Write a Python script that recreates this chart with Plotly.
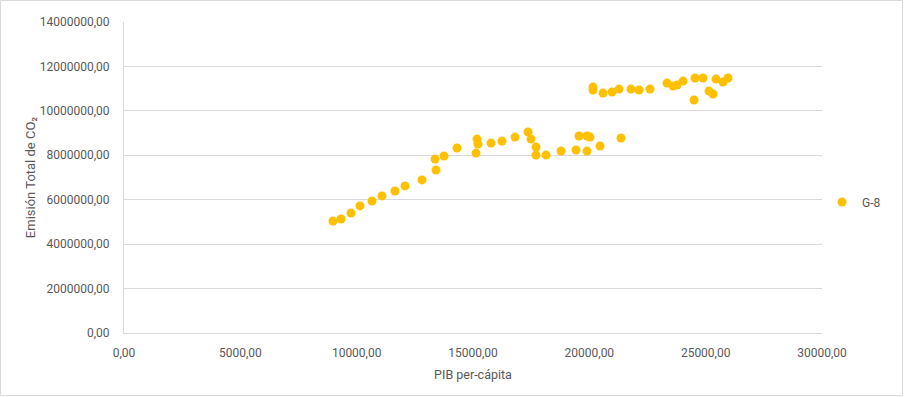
import plotly.graph_objects as go

pib = [8983, 9327, 9757, 10143, 10659, 11089, 11648, 12078, 12808, 13410,
       13367, 13754, 14313, 15129, 15172, 15215, 15774, 16246, 16805, 17364,
       17493, 17708, 17708, 18138, 18783, 19427, 19556, 19900, 19900, 20029,
       20459, 21361, 20158, 20158, 20588, 20975, 21276, 21791, 22135, 22608,
       23338, 23596, 23768, 24026, 24499, 24542, 24886, 25143, 25315, 25444,
       25745, 25960]
co2 = [5040000, 5130000, 5400000, 5720000, 5940000, 6170000, 6390000, 6620000, 6890000, 7340000,
       7830000, 7970000, 8330000, 8100000, 8730000, 8510000, 8550000, 8640000, 8820000, 9050000,
       8730000, 8370000, 8010000, 8010000, 8190000, 8240000, 8870000, 8190000, 8870000, 8820000,
       8420000, 8780000, 11070000, 10940000, 10800000, 10850000, 10980000, 10980000, 10940000, 10980000,
       11250000, 11120000, 11160000, 11340000, 10490000, 11480000, 11480000, 10890000, 10760000, 11430000,
       11300000, 11480000]
series_name = "G-8"

FONT = "Roboto, sans-serif"
TXT = "#595959"
GRID = "#d9d9d9"

fig = go.Figure()
fig.add_trace(go.Scatter(
    x=pib, y=co2, mode="markers", name=series_name,
    marker=dict(color="#FFC000", size=9, line=dict(width=0)),
))

W, H = 904, 397
L, R, T, B = 124, 82, 22, 64
pw, ph = W - L - R, H - T - B

def px2paper_x(px):
    return (px - L) / pw

def px2paper_y(py):
    return (H - B - py) / ph

fig.update_layout(
    width=W, height=H,
    margin=dict(l=L, r=R, t=T, b=B, autoexpand=False),
    paper_bgcolor="white", plot_bgcolor="white",
    separators=",.",
    font=dict(family=FONT, size=12, color=TXT),
    showlegend=True,
    legend=dict(x=px2paper_x(822), y=px2paper_y(202), xanchor="left", yanchor="middle",
                font=dict(family=FONT, size=12, color=TXT),
                itemwidth=30, bgcolor="rgba(0,0,0,0)"),
    xaxis=dict(
        range=[0, 30000], dtick=5000, tickformat=".2f",
        showgrid=False, zeroline=False, automargin=False,
        showline=True, linecolor=GRID, linewidth=1,
        ticks="", ticklabelstandoff=9,
        title=dict(text="PIB per-cápita", standoff=10,
                   font=dict(family=FONT, size=12.5, color=TXT)),
    ),
    yaxis=dict(
        range=[0, 14000000], dtick=2000000, tickformat=".2f",
        showgrid=True, gridcolor=GRID, gridwidth=1,
        zeroline=False, automargin=False,
        showline=True, linecolor=GRID, linewidth=1,
        ticks="", ticklabelstandoff=11,
        title=dict(text="Emisión Total de CO₂", standoff=1,
                   font=dict(family=FONT, size=13, color=TXT)),
    ),
    shapes=[dict(type="rect", xref="paper", yref="paper",
                 x0=px2paper_x(0.5), x1=px2paper_x(W - 1.5),
                 y0=px2paper_y(H - 1.5), y1=px2paper_y(0.5),
                 line=dict(color=GRID, width=1), fillcolor="rgba(0,0,0,0)",
                 layer="below")],
)

fig.write_html("out.html", config={"displayModeBar": False},
               post_script="document.body.style.margin='0';")
